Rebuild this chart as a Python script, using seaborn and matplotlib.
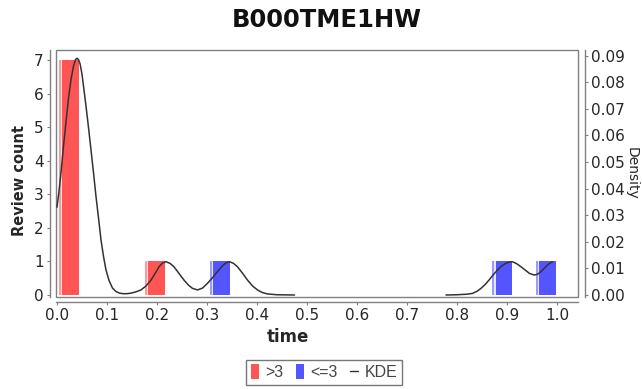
import numpy as np
import pandas as pd
import matplotlib
matplotlib.use('Agg')
import matplotlib.pyplot as plt
import seaborn as sns
from matplotlib.patches import Patch, Rectangle
from matplotlib.lines import Line2D

sns.set_theme(style='white')
plt.rcParams['font.family'] = ['DejaVu Sans']

# Data: review bars (left edge of each bin, count, rating group)
bar_time = [0.003, 0.175, 0.305, 0.870, 0.957]
bar_count = [7, 1, 1, 1, 1]
bar_group = ['>3', '>3', '<=3', '<=3', '<=3']
bar_width = 0.04

# KDE curve (two separate segments)
kde_t1 = [0.0, 0.004, 0.008, 0.013, 0.018, 0.023, 0.028, 0.033, 0.037, 0.040,
          0.043, 0.046, 0.050, 0.054, 0.058, 0.063, 0.068, 0.073, 0.078, 0.083,
          0.088, 0.093, 0.098, 0.104, 0.111, 0.118, 0.125, 0.132, 0.140, 0.148,
          0.158, 0.168, 0.178, 0.188, 0.196, 0.204, 0.211, 0.218, 0.226, 0.234,
          0.244, 0.254, 0.263, 0.271, 0.281, 0.291, 0.301, 0.311, 0.321, 0.331,
          0.338, 0.345, 0.353, 0.361, 0.371, 0.381, 0.391, 0.401, 0.411, 0.421,
          0.440, 0.475]
kde_d1 = [0.033, 0.039, 0.046, 0.056, 0.065, 0.074, 0.081, 0.086, 0.0885, 0.089,
          0.0885, 0.087, 0.083, 0.077, 0.071, 0.063, 0.0545, 0.046, 0.037, 0.029,
          0.0207, 0.0145, 0.0094, 0.0055, 0.0026, 0.0013, 0.0007, 0.0005, 0.0005, 0.0007,
          0.0012, 0.0019, 0.0034, 0.0056, 0.0080, 0.0106, 0.0120, 0.0125, 0.0119, 0.0106,
          0.0081, 0.0056, 0.0037, 0.0025, 0.0019, 0.0026, 0.0044, 0.0065, 0.0088, 0.0110,
          0.0121, 0.0125, 0.0119, 0.0106, 0.0082, 0.0056, 0.0034, 0.0019, 0.0009, 0.0004,
          0.0001, 0.0]
kde_t2 = [0.778, 0.800, 0.820, 0.831, 0.840, 0.848, 0.856, 0.864, 0.872, 0.881,
          0.890, 0.898, 0.905, 0.911, 0.920, 0.928, 0.937, 0.945, 0.955, 0.962,
          0.968, 0.975, 0.981, 0.986, 0.991]
kde_d2 = [0.0, 0.0001, 0.0003, 0.0006, 0.0014, 0.0025, 0.0039, 0.0056, 0.0075, 0.0094,
          0.0110, 0.0120, 0.0124, 0.0125, 0.0117, 0.0106, 0.0093, 0.0081, 0.0075, 0.0079,
          0.0088, 0.0101, 0.0113, 0.0120, 0.0125]

x_ticks = [0.0, 0.1, 0.2, 0.3, 0.4, 0.5, 0.6, 0.7, 0.8, 0.9, 1.0]
count_ticks = [0, 1, 2, 3, 4, 5, 6, 7]
density_ticks = [0.0, 0.01, 0.02, 0.03, 0.04, 0.05, 0.06, 0.07, 0.08, 0.09]

colors = {'>3': '#FF5555', '<=3': '#5555FF'}
light = {'>3': '#FF9A9A', '<=3': '#9A9AFF'}
grey = '#808080'
tick_font = 'Liberation Sans'

kde = pd.DataFrame({
    'time': kde_t1 + kde_t2,
    'density': kde_d1 + kde_d2,
    'seg': [1] * len(kde_t1) + [2] * len(kde_t2),
})

fig = plt.figure(figsize=(6.42, 3.89), dpi=100)
ax = fig.add_axes([56 / 642, 92 / 389, 522 / 642, 247 / 389])

for t, c, g in zip(bar_time, bar_count, bar_group):
    ax.bar(t, c, width=bar_width, align='edge', color=colors[g], linewidth=0)
    ax.bar(t, c, width=0.004, align='edge', color=light[g], linewidth=0)
    ax.bar(t + 0.004, c, width=0.003, align='edge', color='white', alpha=0.85, linewidth=0)

ax.set_xlim(-0.002, 1.042)
ax.set_ylim(-0.06, 7.31)
ax.set_xticks(x_ticks, labels=[f'{v:.1f}' for v in x_ticks],
              fontfamily=tick_font, fontsize=10.5, color='#444444')
ax.set_yticks(count_ticks, labels=[str(v) for v in count_ticks],
              fontfamily=tick_font, fontsize=10.5, color='#444444')
ax.set_xlabel('time', fontsize=12, fontweight='bold')
ax.xaxis.set_label_coords((288 - 56) / 522, -0.125)
ax.set_ylabel('Review count', fontsize=10.5, fontweight='bold')
ax.yaxis.set_label_coords(-0.055, (297 - 180) / 247)

ax2 = ax.twinx()
sns.lineplot(data=kde, x='time', y='density', units='seg', estimator=None,
             color='#333333', linewidth=1.1, ax=ax2, sort=False)
for ln in ax2.get_lines():
    ln.set_solid_joinstyle('round')
ax2.set_ylim(-0.00075, 0.0921)
ax2.set_yticks(density_ticks, labels=[f'{v:.2f}' for v in density_ticks],
               fontfamily=tick_font, fontsize=10, color='#444444')
ax2.set_ylabel('Density', fontsize=10, rotation=-90, va='center', ha='center')
ax2.yaxis.set_label_coords((632 - 56) / 522, 0.5)
ax2.set_xlabel('')

for a in (ax, ax2):
    for s in a.spines.values():
        s.set_visible(False)
    a.tick_params(length=2.5, width=0.8, color=grey)

ax.spines['left'].set_visible(True)
ax.spines['left'].set_position(('outward', 4.3))
ax.spines['bottom'].set_visible(True)
ax.spines['bottom'].set_position(('outward', 3.6))
ax2.spines['right'].set_visible(True)
ax2.spines['right'].set_position(('outward', 5))
for s in (ax.spines['left'], ax.spines['bottom'], ax2.spines['right']):
    s.set_color(grey)
    s.set_linewidth(1)
ax.tick_params(axis='y', left=True, pad=2)
ax.tick_params(axis='x', bottom=True, pad=2)
ax2.tick_params(axis='y', right=True, pad=1.5)

ax2.add_patch(Rectangle((0, 0), 1, 1, transform=ax2.transAxes, fill=False,
                        edgecolor=grey, linewidth=1, clip_on=False))

fig.text(327 / 642, 1 - 20 / 389, 'B000TME1HW', fontsize=17.5, fontweight='bold',
         ha='center', va='center', color='#111111')

handles = [Patch(facecolor=colors['>3'], edgecolor='none'),
           Patch(facecolor=colors['<=3'], edgecolor='none'),
           Line2D([0], [0], color='#333333', linewidth=1)]
leg = fig.legend(handles, ['>3', '<=3', 'KDE'], loc='lower center',
                 bbox_to_anchor=(324 / 642, -0.01), ncol=3, frameon=True,
                 prop={'family': tick_font, 'size': 11.5},
                 handlelength=0.5, handleheight=1.0, handletextpad=0.4,
                 columnspacing=0.8, borderpad=0.3, fancybox=False)
leg.get_frame().set_edgecolor('#555555')
leg.get_frame().set_linewidth(1)
for txt in leg.get_texts():
    txt.set_color('#444444')

fig.savefig('out.png', dpi=100)
